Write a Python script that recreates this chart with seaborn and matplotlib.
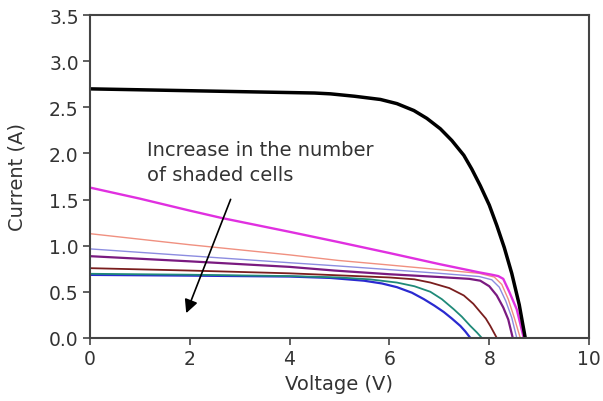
import pandas as pd
import matplotlib
matplotlib.use('Agg')
import matplotlib.pyplot as plt
import seaborn as sns

# ---------- data ----------
v_full = [0, 1, 2, 3, 4, 4.5, 4.82, 5.3, 5.82, 6.15, 6.49, 6.75, 7.02, 7.25,
          7.49, 7.65, 7.82, 8.0, 8.15, 8.3, 8.45, 8.6, 8.72]
i_full = [2.70, 2.69, 2.68, 2.67, 2.66, 2.655, 2.646, 2.62, 2.585, 2.54, 2.465,
          2.38, 2.267, 2.14, 1.98, 1.83, 1.65, 1.44, 1.22, 0.98, 0.70, 0.36, 0.0]

v_magenta = [0, 1, 2, 2.64, 4, 4.97, 6, 7, 7.8, 8.05, 8.18, 8.28, 8.4, 8.55, 8.69]
i_magenta = [1.63, 1.51, 1.38, 1.30, 1.15, 1.04, 0.92, 0.80, 0.71, 0.685, 0.67,
             0.64, 0.50, 0.31, 0.0]

v_salmon = [0, 2, 4, 4.97, 6, 7, 7.8, 8.1, 8.25, 8.38, 8.5, 8.62]
i_salmon = [1.13, 1.01, 0.90, 0.84, 0.79, 0.74, 0.70, 0.66, 0.58, 0.42, 0.22, 0.0]

v_lblue = [0, 2, 4, 4.97, 6, 7, 7.8, 8.05, 8.2, 8.33, 8.45, 8.55]
i_lblue = [0.965, 0.89, 0.815, 0.78, 0.74, 0.70, 0.665, 0.63, 0.55, 0.40, 0.22, 0.0]

v_purple = [0, 2, 4, 4.9, 6, 7, 7.6, 7.82, 8.0, 8.15, 8.28, 8.38, 8.47]
i_purple = [0.886, 0.83, 0.77, 0.73, 0.69, 0.66, 0.64, 0.62, 0.56, 0.46, 0.33,
            0.20, 0.0]

v_brown = [0, 2, 4, 4.9, 6, 6.5, 6.82, 7.2, 7.49, 7.68, 7.82, 7.93, 8.02, 8.15]
i_brown = [0.756, 0.73, 0.70, 0.68, 0.655, 0.635, 0.60, 0.54, 0.46, 0.37, 0.28,
           0.21, 0.13, 0.0]

v_teal = [0, 2, 4, 5, 5.6, 6.15, 6.5, 6.82, 7.05, 7.29, 7.45, 7.62, 7.75, 7.85]
i_teal = [0.695, 0.685, 0.67, 0.655, 0.635, 0.60, 0.56, 0.50, 0.42, 0.31, 0.23,
          0.13, 0.06, 0.0]

v_blue = [0, 2, 4, 4.82, 5.49, 5.85, 6.15, 6.45, 6.69, 6.9, 7.09, 7.25, 7.42,
          7.52, 7.62]
i_blue = [0.683, 0.675, 0.665, 0.65, 0.62, 0.59, 0.55, 0.49, 0.42, 0.35, 0.28,
          0.21, 0.13, 0.07, 0.0]

x_ticks = [0, 2, 4, 6, 8, 10]
y_ticks = [0.0, 0.5, 1.0, 1.5, 2.0, 2.5, 3.0, 3.5]

note_text = 'Increase in the number\nof shaded cells'

# ---------- style ----------
sns.set_style('white')
plt.rcParams['font.family'] = ['DejaVu Sans']

fig = plt.figure(figsize=(6.03, 4.02), dpi=100)
ax = fig.add_axes([0.149, 0.157, 0.828, 0.803])

curves = [
    (v_blue, i_blue, '#2a2ad0', 1.6),
    (v_teal, i_teal, '#1f8a78', 1.3),
    (v_brown, i_brown, '#7a1e1e', 1.3),
    (v_purple, i_purple, '#7a1a80', 1.6),
    (v_lblue, i_lblue, '#8c8ce0', 1.0),
    (v_salmon, i_salmon, '#f09080', 1.0),
    (v_magenta, i_magenta, '#e030e0', 1.7),
    (v_full, i_full, 'black', 2.5),
]

for v, i, col, lw in curves:
    df = pd.DataFrame({'V': v, 'I': i})
    sns.lineplot(data=df, x='V', y='I', ax=ax, color=col, linewidth=lw,
                 sort=False, estimator=None)

ax.annotate('', xy=(1.91, 0.24), xytext=(2.84, 1.53),
            arrowprops=dict(arrowstyle='-|>', color='black', lw=1.2,
                            mutation_scale=20))
ax.text(1.14, 2.15, note_text, ha='left', va='top', fontsize=14,
        color='#333333', linespacing=1.42)

ax.set_xlim(0, 10)
ax.set_ylim(0, 3.5)
ax.set_xticks(x_ticks)
ax.set_yticks(y_ticks)
ax.set_xticklabels([str(t) for t in x_ticks])
ax.set_yticklabels([f'{t:.1f}' for t in y_ticks])
ax.set_xlabel('Voltage (V)', fontsize=14, color='#333333', labelpad=4)
ax.set_ylabel('Current (A)', fontsize=14, color='#333333', labelpad=16)

for s in ax.spines.values():
    s.set_color('#444444')
    s.set_linewidth(1.5)
ax.tick_params(axis='both', direction='out', length=5, width=1.2,
               color='#444444', labelcolor='#333333', labelsize=13.5,
               bottom=True, left=True, pad=3)

plt.savefig('out.png', dpi=100)
